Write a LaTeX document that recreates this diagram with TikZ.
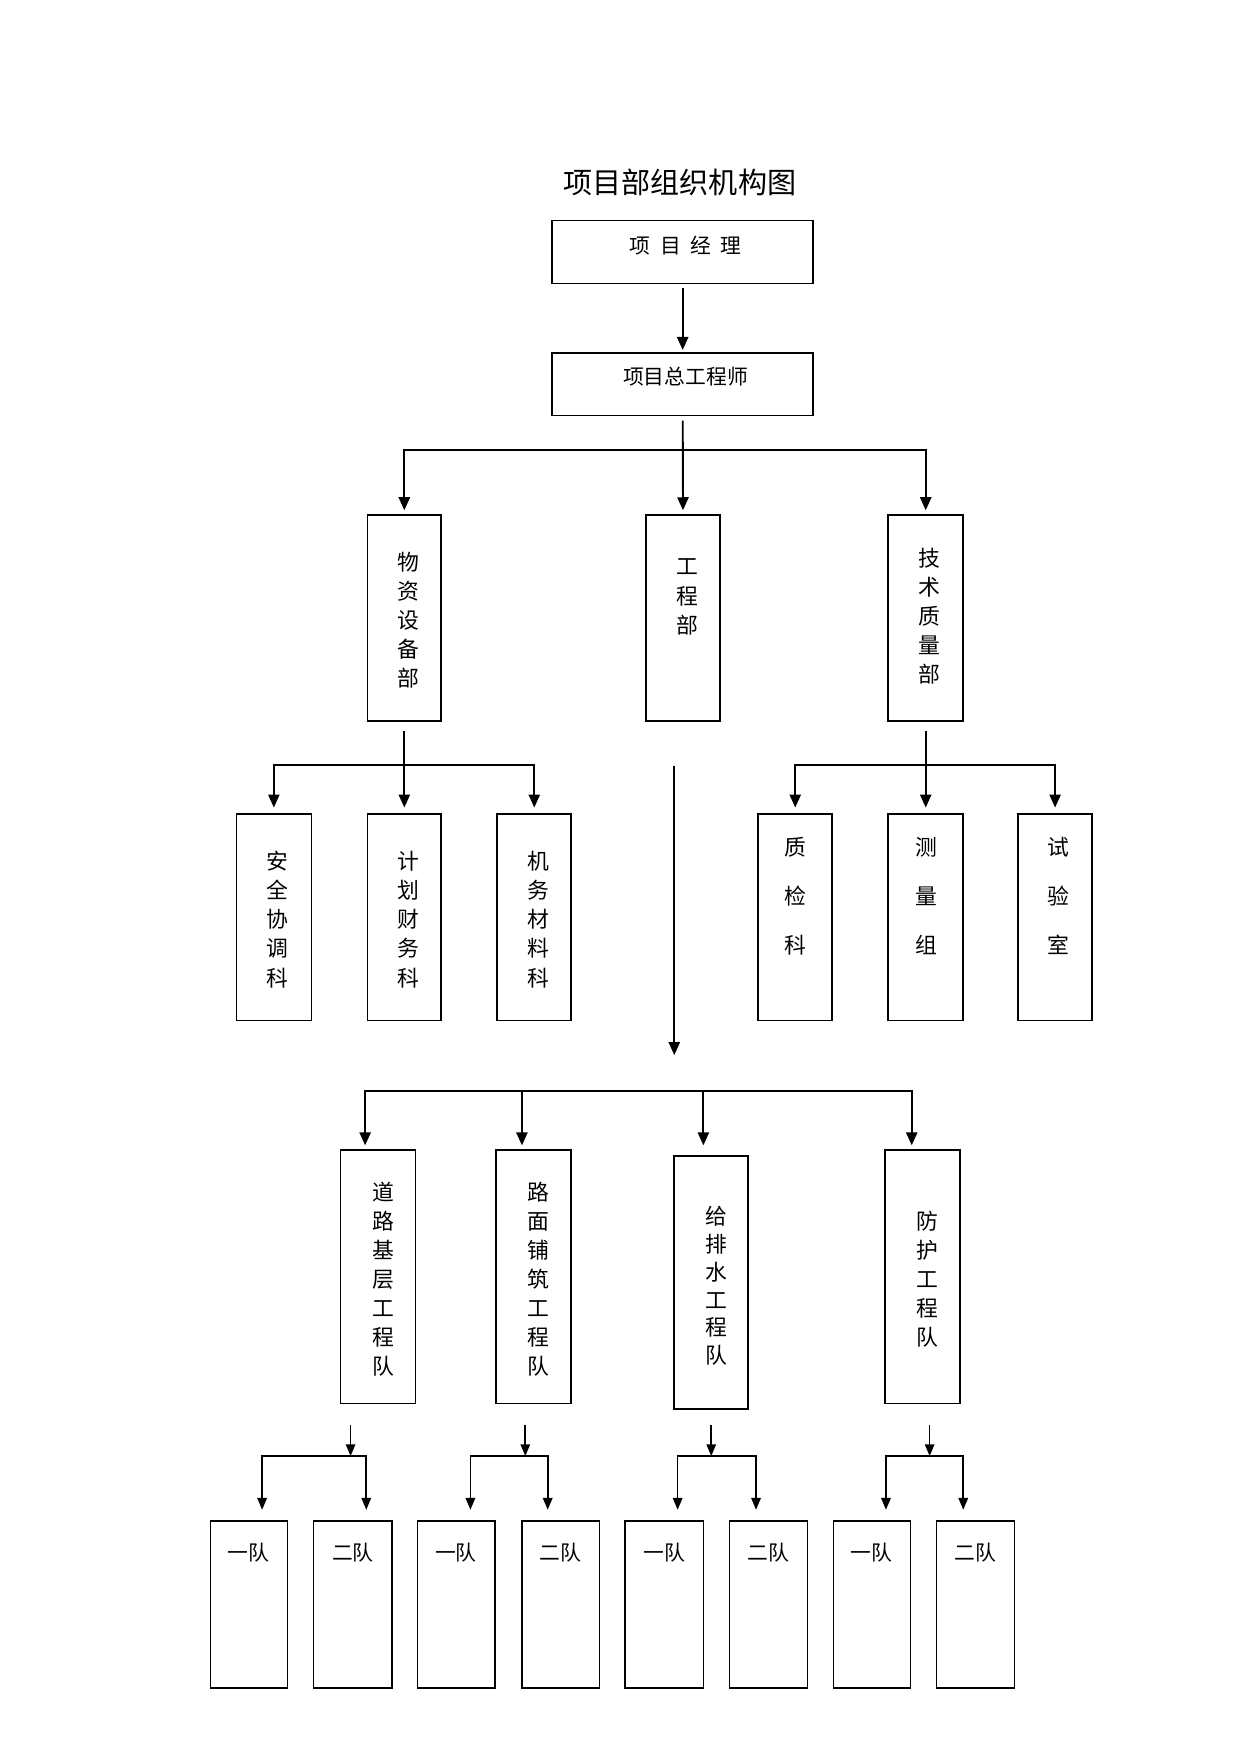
\documentclass[tikz,border=0pt]{standalone}
\usepackage{fontspec}
\setmainfont{Noto Sans CJK SC}
\usepackage{tikz}
\usetikzlibrary{arrows.meta,fit,calc}

\begin{document}
\begin{tikzpicture}[
    x=0.018953cm, y=-0.018953cm,
    box/.style={draw, line width=0.8pt, inner sep=0pt},
    teambox/.style={draw, line width=0.6pt, inner sep=0pt},
    vtxt/.style={font=\fontsize{10.5}{14}\selectfont, align=center, inner sep=0pt},
    vtxtwide/.style={font=\fontsize{10.5}{23.7}\selectfont, align=center, inner sep=0pt},
    vtxttight/.style={font=\fontsize{10.5}{13.4}\selectfont, align=center, inner sep=0pt},
    htxt/.style={font=\fontsize{10}{12}\selectfont, inner sep=0pt},
    arrow/.style={-{Triangle[length=2.2mm, width=1.9mm]}, line width=0.9pt},
    smallarrow/.style={-{Triangle[length=2mm, width=1.6mm]}, line width=0.8pt},
]
    \useasboundingbox (0,0) rectangle (1108,1566);

    % Title
    \node[font=\fontsize{14}{16}\selectfont, inner sep=0pt] (title) at (607,163) {项目部组织机构图};

    % Project manager and chief engineer
    \node[box, fit={(493,197) (726,253)}] (pm) {};
    \node[htxt] (pmtext) at (612,219) {项\hspace{0.45em}目\hspace{0.45em}经\hspace{0.45em}理};
    \node[box, fit={(493,315) (726,371)}] (chief) {};
    \node[htxt] (chieftext) at (612,336) {项目总工程师};
    \draw[arrow, shorten <=2pt, shorten >=1pt] (pm) -- (chief);

    % Departments
    \node[box, fit={(328,460) (394,644)}] (supply) {};
    \node[vtxt] (supplytext) at (365,554) {物\\资\\设\\备\\部};
    \node[box, fit={(577,460) (643,644)}] (eng) {};
    \node[vtxt] (engtext) at (614,533) {工\\程\\部};
    \node[box, fit={(793,460) (860,644)}] (tech) {};
    \node[vtxt] (techtext) at (830,550) {技\\术\\质\\量\\部};

    \coordinate (split1) at (610,402);
    \draw[arrow, shorten <=2pt, shorten >=2pt] (chief) -- (eng);
    \draw[arrow, shorten >=2pt] (split1) -| (supply.north);
    \draw[arrow, shorten >=2pt] (split1) -| (tech.north);

    % Sections under supply department
    \node[box, fit={(211,727) (278,911)}] (safety) {};
    \node[vtxt] (safetytext) at (248,821) {安\\全\\协\\调\\科};
    \node[box, fit={(328,727) (394,911)}] (plan) {};
    \node[vtxt] (plantext) at (365,821) {计\\划\\财\\务\\科};
    \node[box, fit={(444,727) (510,911)}] (mach) {};
    \node[vtxt] (machtext) at (481,821) {机\\务\\材\\料\\科};

    \coordinate (split2) at (361,683);
    \draw[arrow, shorten <=0.15cm, shorten >=0.1cm] (supply) -- (plan);
    \draw[arrow, shorten >=0.1cm] (split2) -| (safety.north);
    \draw[arrow, shorten >=0.1cm] (split2) -| (mach.north);

    % Sections under technical quality department
    \node[box, fit={(677,727) (743,911)}] (qc) {};
    \node[vtxtwide] (qctext) at (710,800) {质\\检\\科};
    \node[box, fit={(793,727) (860,911)}] (survey) {};
    \node[vtxtwide] (surveytext) at (827,800) {测\\量\\组};
    \node[box, fit={(909,727) (975,911)}] (lab) {};
    \node[vtxtwide] (labtext) at (945,800) {试\\验\\室};

    \coordinate (split3) at (826,683);
    \draw[arrow, shorten <=0.15cm, shorten >=0.1cm] (tech) -- (survey);
    \draw[arrow, shorten >=0.1cm] (split3) -| (qc.north);
    \draw[arrow, shorten >=0.1cm] (split3) -| (lab.north);

    % Engineering department down to the teams
    \coordinate (engtop) at (602,684);
    \coordinate (engend) at (602,942);
    \draw[arrow] (engtop) -- (engend);

    % Work teams
    \node[box, fit={(304,1027) (371,1253)}] (road) {};
    \node[vtxt] (roadtext) at (342,1142) {道\\路\\基\\层\\工\\程\\队};
    \node[box, fit={(443,1027) (510,1253)}] (pave) {};
    \node[vtxt] (pavetext) at (481,1142) {路\\面\\铺\\筑\\工\\程\\队};
    \node[box, fit={(602,1032) (668,1258)}] (drain) {};
    \node[vtxttight] (draintext) at (640,1148) {给\\排\\水\\工\\程\\队};
    \node[box, fit={(790,1027) (857,1253)}] (guard) {};
    \node[vtxt] (guardtext) at (828,1142) {防\\护\\工\\程\\队};

    \coordinate (split4) at (602,974);
    \coordinate (down1) at (326,974);
    \coordinate (down2) at (466,974);
    \coordinate (down3) at (628,974);
    \coordinate (down4) at (814,974);
    \draw[arrow, shorten >=2pt] (split4) -| (down1 |- road.north);
    \draw[arrow, shorten >=2pt] (split4) -| (down4 |- guard.north);
    \draw[arrow, shorten >=2pt] (down2) -- (down2 |- pave.north);
    \draw[arrow, shorten >=2pt] (down3) -- (down3 |- road.north);

    % Squads, group 1
    \node[teambox, fit={(188,1358) (257,1507)}] (road1) {};
    \node[htxt] (road1text) at (222,1386) {一队};
    \node[teambox, fit={(280,1358) (350,1507)}] (road2) {};
    \node[htxt] (road2text) at (315,1386) {二队};
    \coordinate (drop1) at (313,1272);
    \coordinate (fork1) at (313,1300);
    \draw[smallarrow] (drop1) -- (fork1);
    \coordinate (fork1l) at (234,1300);
    \coordinate (fork1r) at (327,1300);
    \draw[smallarrow, shorten >=0.18cm] (fork1) -| (fork1l |- road1.north);
    \draw[smallarrow, shorten >=0.18cm] (fork1) -| (fork1r |- road2.north);

    % Squads, group 2
    \node[teambox, fit={(373,1358) (442,1507)}] (pave1) {};
    \node[htxt] (pave1text) at (407,1386) {一队};
    \node[teambox, fit={(466,1358) (535,1507)}] (pave2) {};
    \node[htxt] (pave2text) at (500,1386) {二队};
    \coordinate (drop2) at (469,1272);
    \coordinate (fork2) at (469,1300);
    \draw[smallarrow] (drop2) -- (fork2);
    \coordinate (fork2l) at (420,1300);
    \coordinate (fork2r) at (489,1300);
    \draw[smallarrow, shorten >=0.18cm] (fork2) -| (fork2l |- pave1.north);
    \draw[smallarrow, shorten >=0.18cm] (fork2) -| (fork2r |- pave2.north);

    % Squads, group 3
    \node[teambox, fit={(558,1358) (628,1507)}] (drain1) {};
    \node[htxt] (drain1text) at (593,1386) {一队};
    \node[teambox, fit={(651,1358) (721,1507)}] (drain2) {};
    \node[htxt] (drain2text) at (686,1386) {二队};
    \coordinate (drop3) at (635,1272);
    \coordinate (fork3) at (635,1300);
    \draw[smallarrow] (drop3) -- (fork3);
    \coordinate (fork3l) at (605,1300);
    \coordinate (fork3r) at (675,1300);
    \draw[smallarrow, shorten >=0.18cm] (fork3) -| (fork3l |- drain1.north);
    \draw[smallarrow, shorten >=0.18cm] (fork3) -| (fork3r |- drain2.north);

    % Squads, group 4
    \node[teambox, fit={(744,1358) (813,1507)}] (guard1) {};
    \node[htxt] (guard1text) at (778,1386) {一队};
    \node[teambox, fit={(836,1358) (906,1507)}] (guard2) {};
    \node[htxt] (guard2text) at (871,1386) {二队};
    \coordinate (drop4) at (830,1272);
    \coordinate (fork4) at (830,1300);
    \draw[smallarrow] (drop4) -- (fork4);
    \coordinate (fork4l) at (791,1300);
    \coordinate (fork4r) at (860,1300);
    \draw[smallarrow, shorten >=0.18cm] (fork4) -| (fork4l |- guard1.north);
    \draw[smallarrow, shorten >=0.18cm] (fork4) -| (fork4r |- guard2.north);
\end{tikzpicture}
\end{document}
